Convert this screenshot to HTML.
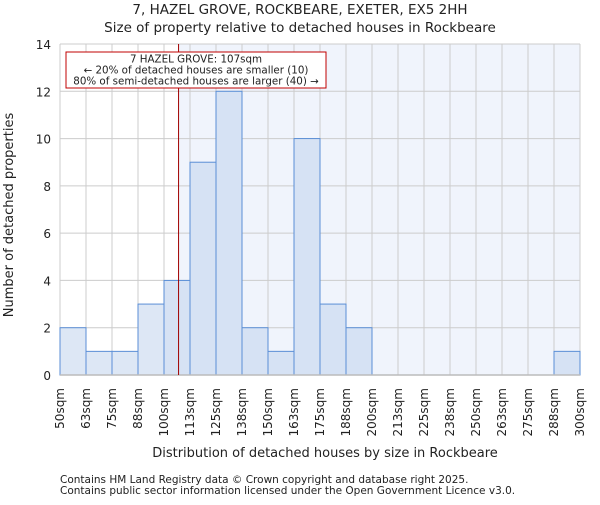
<!DOCTYPE html>
<html><head><meta charset="utf-8"><style>
body{margin:0;background:#fff}
svg text{font-family:"DejaVu Sans","Liberation Sans",sans-serif;fill:#222}
</style></head><body>
<svg id="c" width="600" height="500">
<text x="300" y="14" text-anchor="middle" font-size="13.5">7, HAZEL GROVE, ROCKBEARE, EXETER, EX5 2HH</text>
<text x="300" y="32" text-anchor="middle" font-size="13.5">Size of property relative to detached houses in Rockbeare</text>
<g id="plot"></g>
<text x="325" y="457" text-anchor="middle" font-size="13">Distribution of detached houses by size in Rockbeare</text>
<text transform="translate(13,215) rotate(-90)" text-anchor="middle" font-size="13">Number of detached properties</text>
<text x="60" y="483" font-size="10.5">Contains HM Land Registry data © Crown copyright and database right 2025.</text>
<text x="60" y="494" font-size="10.5">Contains public sector information licensed under the Open Government Licence v3.0.</text>
</svg>
<script>
const categories=["50sqm","63sqm","75sqm","88sqm","100sqm","113sqm","125sqm","138sqm","150sqm","163sqm","175sqm","188sqm","200sqm","213sqm","225sqm","238sqm","250sqm","263sqm","275sqm","288sqm","300sqm"];
const counts=[2,1,1,3,4,9,12,2,1,10,3,2,0,0,0,0,0,0,0,1];
const yTicks=[0,2,4,6,8,10,12,14];
const binStart=50, binWidth=12.5, propertySize=107;
const X0=60,X1=580,Y0=375,Y1=44,yMax=14;
const xs=v=>X0+(v-binStart)/(binWidth*counts.length)*(X1-X0);
const ys=v=>Y0-v/yMax*(Y0-Y1);
const NS="http://www.w3.org/2000/svg",g=document.getElementById('plot');
function mk(t,a,p){const e=document.createElementNS(NS,t);for(const k in a)e.setAttribute(k,a[k]);(p||g).appendChild(e);return e;}
const px=xs(propertySize);
let bg=mk('rect',{x:px,y:Y1,width:X1-px,height:Y0-Y1,fill:'#f0f4fc'});


for(let i=0;i<categories.length;i++){const x=xs(binStart+i*binWidth);mk('line',{x1:x,x2:x,y1:Y1,y2:Y0,stroke:'#cccccc','stroke-width':1});}
yTicks.forEach(t=>{const y=ys(t);mk('line',{x1:X0,x2:X1,y1:y,y2:y,stroke:'#cccccc','stroke-width':1});
const tx=mk('text',{x:X0-9,y:y+5,'text-anchor':'end','font-size':'12'});tx.textContent=t;

});
counts.forEach((c,i)=>{const a=binStart+i*binWidth;const x=xs(a),w=xs(a+binWidth)-x;
const r=mk('rect',{x:x,y:ys(c),width:w,height:Y0-ys(c),fill:a+binWidth<=propertySize?'#dde7f5':'#d6e2f4',stroke:'#5a8ed6','stroke-width':1});

});
mk('line',{x1:X0,x2:X1,y1:Y0,y2:Y0,stroke:'#bbbbbb','stroke-width':1.5});
categories.forEach((c,i)=>{const x=xs(binStart+i*binWidth);
const t=mk('text',{transform:`translate(${x+4},388) rotate(-90)`,'text-anchor':'end','font-size':'12'});t.textContent=c;

});
const pl=mk('line',{x1:px,x2:px,y1:Y1,y2:Y0,stroke:'#a00000','stroke-width':1});


const box=mk('rect',{x:66,y:52,width:260,height:36,fill:'#fff',stroke:'#c00000','stroke-width':1});


["7 HAZEL GROVE: 107sqm","← 20% of detached houses are smaller (10)","80% of semi-detached houses are larger (40) →"].forEach((s,i)=>{
const t=mk('text',{x:196,y:62.5+i*11,'text-anchor':'middle','font-size':'10.3'});t.textContent=s;

});
</script>
</body></html>
